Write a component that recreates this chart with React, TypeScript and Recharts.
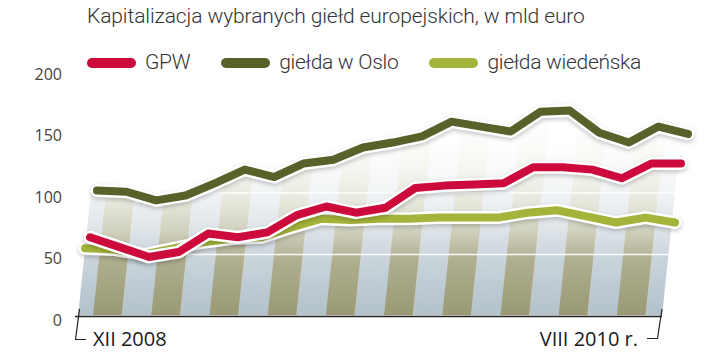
import {
  Area,
  CartesianGrid,
  ComposedChart,
  Line,
  XAxis,
  YAxis,
} from "recharts";

const MONTHS = [
  "XII 2008",
  "I 2009", "II 2009", "III 2009", "IV 2009", "V 2009", "VI 2009",
  "VII 2009", "VIII 2009", "IX 2009", "X 2009", "XI 2009", "XII 2009",
  "I 2010", "II 2010", "III 2010", "IV 2010", "V 2010", "VI 2010",
  "VII 2010", "VIII 2010",
];

const GPW = [64, 56, 48, 52, 67, 64, 68, 82, 89, 84, 88, 104, 106, 107, 108, 121, 121, 119, 112, 124, 124];
const OSLO = [102, 101, 94, 98, 108, 119, 113, 124, 127, 137, 141, 146, 158, 154, 150, 166, 167, 149, 141, 154, 148];
const WIEN = [55, 54, 50, 55, 60, 63, 64, 72, 79, 78, 79, 79, 80, 80, 80, 84, 86, 81, 76, 80, 76];

const Y_TICKS = [0, 50, 100, 150, 200];

const TITLE = "Kapitalizacja wybranych giełd europejskich, w mld euro";

const SERIES = [
  { key: "gpw", name: "GPW", color: "#cc0a3b" },
  { key: "oslo", name: "giełda w Oslo", color: "#56622a" },
  { key: "wien", name: "giełda wiedeńska", color: "#a4b43a" },
];

const rows = MONTHS.map((month, i) => ({
  i,
  month,
  gpw: GPW[i],
  oslo: OSLO[i],
  wien: WIEN[i],
}));

const color = (k: string) => SERIES.find((s) => s.key === k)!.color;

function YTick({ x, y, payload }: any) {
  return (
    <text
      x={x}
      y={y + 4}
      dy="0.36em"
      textAnchor="end"
      fontFamily="'Open Sans', sans-serif"
      fontSize={16}
      fill="#444"
    >
      {payload.value}
    </text>
  );
}

function LegendBox() {
  return (
    <div
      style={{
        position: "absolute",
        top: 52,
        left: 87,
        display: "flex",
        alignItems: "center",
        fontFamily: "Roboto, sans-serif",
        fontWeight: 300,
        fontSize: 21,
        lineHeight: "21px",
        letterSpacing: -0.3,
        color: "#333",
        whiteSpace: "nowrap",
      }}
    >
      {SERIES.map((s) => (
        <div
          key={s.key}
          style={{ display: "flex", alignItems: "center", marginRight: 31 }}
        >
          <span
            style={{
              display: "inline-block",
              width: 49,
              height: 10,
              borderRadius: 5,
              background: s.color,
              marginRight: 9,
            }}
          />
          <span>{s.name}</span>
        </div>
      ))}
    </div>
  );
}

export default function App() {
  // drawing order: Vienna at the bottom, Oslo on top
  const lineOrder = ["wien", "gpw", "oslo"];
  return (
    <div
      style={{
        position: "absolute",
        left: 0,
        top: 0,
        width: 720,
        height: 356,
        background: "#fff",
        overflow: "hidden",
      }}
    >
      <style>{`
        .halo { filter: drop-shadow(0px 2px 2px rgba(0,0,0,0.22)); }
        .ln path { stroke-linecap: round; stroke-linejoin: round; }
      `}</style>
      <ComposedChart
        width={720}
        height={356}
        data={rows}
        margin={{ top: 70, right: 20, bottom: 40, left: 0 }}
      >
        <defs>
          <linearGradient id="oliveGrad" gradientUnits="userSpaceOnUse" x1="0" y1="316" x2="0" y2="110">
            <stop offset="0" stopColor="#9a9975" />
            <stop offset="0.27" stopColor="#afae8f" />
            <stop offset="0.42" stopColor="#d2d2c1" />
            <stop offset="0.56" stopColor="#e8e8de" />
            <stop offset="0.71" stopColor="#f5f5f0" />
            <stop offset="0.85" stopColor="#fcfcfa" />
            <stop offset="1" stopColor="#ffffff" />
          </linearGradient>
          <linearGradient id="blueGrad" gradientUnits="userSpaceOnUse" x1="0" y1="316" x2="0" y2="110">
            <stop offset="0" stopColor="#b2c1cb" />
            <stop offset="0.27" stopColor="#c9d3da" />
            <stop offset="0.42" stopColor="#dee4e8" />
            <stop offset="0.56" stopColor="#eef1f3" />
            <stop offset="0.71" stopColor="#f8f9fa" />
            <stop offset="0.85" stopColor="#ffffff" />
            <stop offset="1" stopColor="#ffffff" />
          </linearGradient>
          <pattern id="stripesInner" patternUnits="userSpaceOnUse" x={9.8} y={0} width={58.2} height={356}>
            <rect x={0} y={0} width={29.1} height={356} fill="url(#oliveGrad)" />
            <rect x={29.1} y={0} width={29.1} height={356} fill="url(#blueGrad)" />
          </pattern>
          <pattern id="bgPattern" patternUnits="userSpaceOnUse" x={0} y={0} width={720} height={356}>
            <rect x={111.2} y={0} width={584} height={316} transform="skewX(-6)" fill="url(#stripesInner)" />
          </pattern>
        </defs>

        <XAxis xAxisId="bg" type="number" dataKey="i" domain={[0, 20]} hide padding={{ left: 8, right: 5 }} />
        <XAxis xAxisId="wien" type="number" dataKey="i" domain={[0, 20]} hide padding={{ left: 15, right: 25 }} />
        <XAxis xAxisId="gpw" type="number" dataKey="i" domain={[0, 20]} hide padding={{ left: 20, right: 19 }} />
        <XAxis xAxisId="oslo" type="number" dataKey="i" domain={[0, 20]} hide padding={{ left: 27, right: 12 }} />
        <YAxis
          domain={[0, 200]}
          ticks={Y_TICKS}
          width={70}
          tickLine={false}
          axisLine={false}
          tickSize={0}
          tickMargin={8}
          tick={<YTick />}
        />

        <Area
          xAxisId="bg"
          dataKey="oslo"
          type="linear"
          stroke="none"
          fill="url(#bgPattern)"
          fillOpacity={1}
          isAnimationActive={false}
          legendType="none"
        />
        <CartesianGrid
          xAxisId="bg"
          vertical={false}
          stroke="#ffffff"
          strokeWidth={1.5}
          strokeOpacity={0.9}
          zIndex={150}
        />

        {lineOrder.flatMap((k) => [
          <Line
            key={k + "-halo"}
            xAxisId={k}
            dataKey={k}
            type="linear"
            stroke="#ffffff"
            strokeWidth={13}
            dot={false}
            activeDot={false}
            className="halo ln"
            legendType="none"
            isAnimationActive={false}
          />,
          <Line
            key={k}
            xAxisId={k}
            dataKey={k}
            type="linear"
            stroke={color(k)}
            strokeWidth={8}
            dot={false}
            activeDot={false}
            className="ln"
            isAnimationActive={false}
          />,
        ])}
      </ComposedChart>

      <LegendBox />

      <svg
        width={720}
        height={356}
        style={{ position: "absolute", left: 0, top: 0, pointerEvents: "none" }}
      >
        <text
          x={87}
          y={23}
          fontFamily="Roboto, sans-serif"
          fontWeight={300}
          fontSize={21}
          letterSpacing={-0.1}
          fill="#333"
        >
          {TITLE}
        </text>
        <line x1={75} y1={316.5} x2={662} y2={316.5} stroke="#222" strokeWidth={1.3} />
        <path d="M79.5 309 L75.5 339.5 L86 339.5" fill="none" stroke="#222" strokeWidth={1.2} />
        <path d="M662 309 L657.5 338.5 L647 338.5" fill="none" stroke="#222" strokeWidth={1.2} />
        <text x={93} y={346} fontFamily="'Open Sans', sans-serif" fontSize={20} fill="#1a1a1a">
          {MONTHS[0]}
        </text>
        <text x={638} y={346} textAnchor="end" fontFamily="'Open Sans', sans-serif" fontSize={20} fill="#1a1a1a">
          {MONTHS[MONTHS.length - 1] + " r."}
        </text>
      </svg>
    </div>
  );
}
